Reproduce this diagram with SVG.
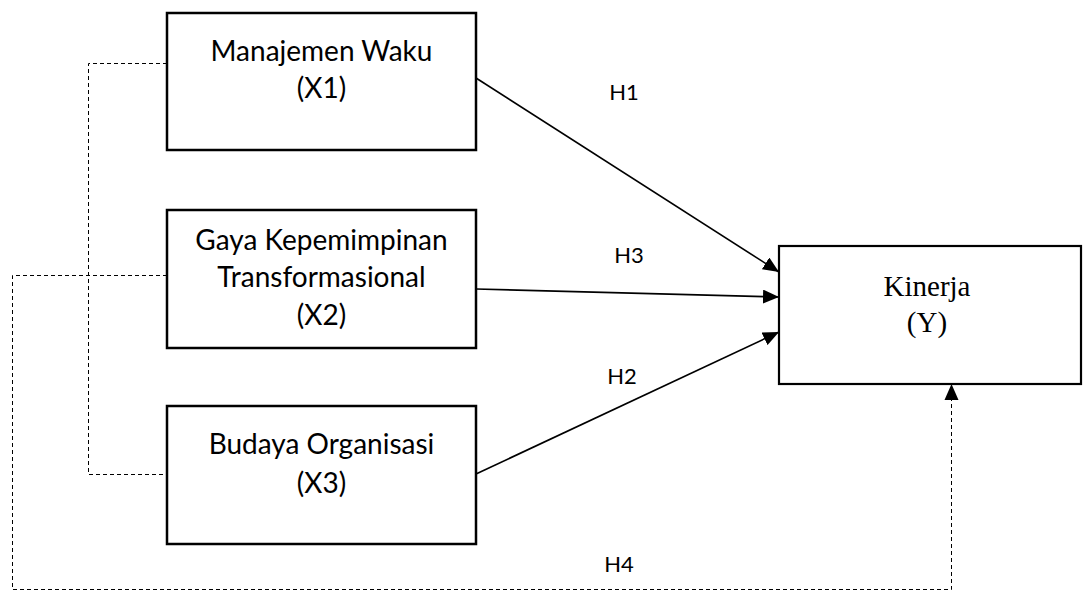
<svg xmlns="http://www.w3.org/2000/svg" width="1084" height="592" viewBox="0 0 1084 592">
<style>
.box{fill:#fff;stroke:#000;stroke-width:2.5}
.t{font-family:Lato,"Open Sans","Liberation Sans",sans-serif;font-size:28px;fill:#000;text-anchor:middle}
.ty{font-family:"Liberation Serif","Times New Roman",serif;font-size:29px;fill:#000;text-anchor:middle}
.lbl{font-family:Lato,"Open Sans","Liberation Sans",sans-serif;font-size:22px;fill:#000;text-anchor:middle}
.arr{fill:none;stroke:#000;stroke-width:1.6;marker-end:url(#ah)}
.dash{fill:none;stroke:#000;stroke-width:1;stroke-dasharray:4 3}
</style>
<defs>
<marker id="ah" markerUnits="userSpaceOnUse" markerWidth="16" markerHeight="14" refX="16" refY="7" orient="auto">
<path d="M0,0 L16,7 L0,14 z" fill="#000"/>
</marker>
</defs>
<g id="connectors">
<path class="dash" d="M167,63.5 H88.5 V474.5 H167"/>
<path class="dash" d="M167,275.5 H12.5 V589.5 H951.5 V399"/>
<path d="M951.5,384 L944.5,400 L958.5,400 z" fill="#000"/>
<line class="arr" x1="476" y1="78" x2="779" y2="272"/>
<line class="arr" x1="476" y1="289" x2="779" y2="297"/>
<line class="arr" x1="476" y1="474" x2="779" y2="332"/>
<text class="lbl" x="624" y="100">H1</text>
<text class="lbl" x="629" y="263">H3</text>
<text class="lbl" x="622" y="384">H2</text>
<text class="lbl" x="619" y="572">H4</text>
</g>
<g id="x1">
<rect class="box" x="167" y="13" width="309" height="137"/>
<text class="t" x="321.5" y="61">Manajemen Waku</text>
<text class="t" x="321.5" y="98">(X1)</text>
</g>
<g id="x2">
<rect class="box" x="167" y="210" width="309" height="138"/>
<text class="t" x="321.5" y="250">Gaya Kepemimpinan</text>
<text class="t" x="321.5" y="287">Transformasional</text>
<text class="t" x="321.5" y="325">(X2)</text>
</g>
<g id="x3">
<rect class="box" x="167" y="406" width="309" height="138"/>
<text class="t" x="321.5" y="454">Budaya Organisasi</text>
<text class="t" x="321.5" y="493">(X3)</text>
</g>
<g id="y">
<rect class="box" x="779" y="246" width="302" height="138" style="stroke-width:2.2"/>
<text class="ty" x="927" y="296">Kinerja</text>
<text class="ty" x="927" y="332">(Y)</text>
</g>
</svg>
